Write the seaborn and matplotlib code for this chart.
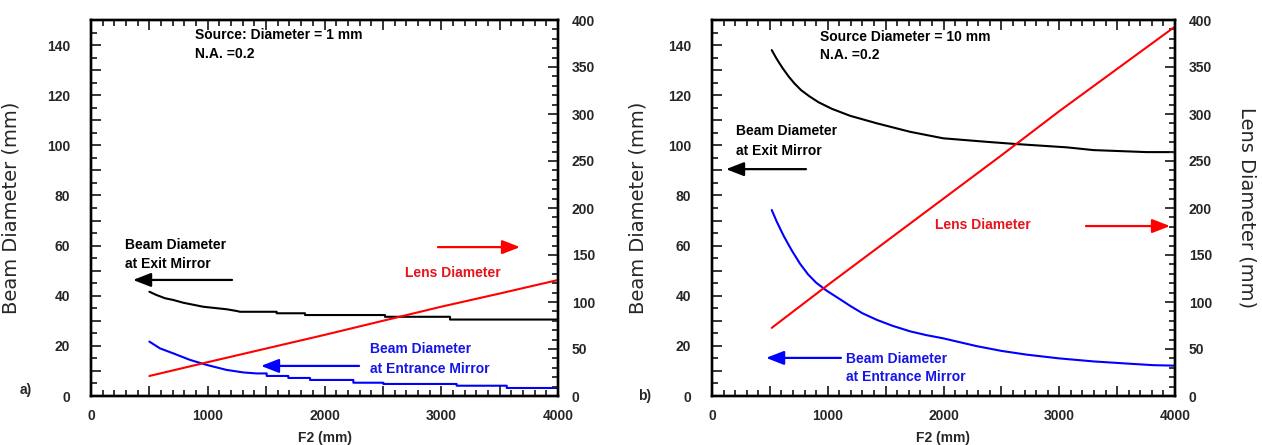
import numpy as np
import pandas as pd
import matplotlib
matplotlib.use("Agg")
import matplotlib.pyplot as plt
from matplotlib.ticker import MultipleLocator, FuncFormatter
import seaborn as sns

# ---------------- data ----------------
# Panel a) source diameter 1 mm, N.A. 0.2  (flat plateaus of the staircase are listed as pairs)
a_exit_f2 = [500, 560, 634, 705, 791, 962, 1162, 1250, 1276, 1590, 1590, 1833, 1833, 2518, 2518, 3075, 3075, 4000]
a_exit_d = [41.6, 40.3, 39.0, 38.3, 37.2, 35.6, 34.6, 33.9, 33.6, 33.6, 33.0, 33.0, 32.3, 32.3, 31.6, 31.6, 30.5, 30.5]
a_entr_f2 = [500, 591, 705, 848, 991, 1162, 1305, 1420, 1505, 1505, 1690, 1690, 1876, 1876, 2247, 2247, 2504, 2504, 3132, 3132, 3561, 3561, 4000]
a_entr_d = [21.7, 19.0, 17.0, 14.4, 12.4, 10.4, 9.4, 9.0, 9.0, 8.0, 8.0, 7.2, 7.2, 6.4, 6.4, 5.3, 5.3, 4.8, 4.8, 4.1, 4.1, 3.2, 3.2]
a_lens_f2 = [500, 1000, 1500, 2000, 2500, 3000, 3500, 4000]
a_lens_d = [21.3, 36.0, 50.5, 65.0, 80.0, 95.0, 109.0, 123.4]

# Panel b) source diameter 10 mm, N.A. 0.2
b_exit_f2 = [516, 560, 610, 660, 710, 770, 840, 920, 1034, 1192, 1423, 1711, 1998, 2373, 2632, 3064, 3295, 3755, 4000]
b_exit_d = [138.0, 134.4, 130.8, 127.6, 124.8, 122.0, 119.6, 117.2, 114.6, 111.8, 108.8, 105.4, 102.8, 101.4, 100.5, 99.2, 98.1, 97.3, 97.3]
b_entr_f2 = [516, 560, 620, 690, 760, 830, 900, 991, 1106, 1192, 1300, 1423, 1560, 1711, 1850, 1998, 2286, 2500, 2718, 3000, 3295, 3600, 3813, 4000]
b_entr_d = [74.2, 69.5, 63.8, 58.0, 52.8, 48.5, 45.2, 42.0, 38.6, 36.0, 33.0, 30.4, 28.0, 25.8, 24.3, 23.0, 19.9, 18.0, 16.5, 15.0, 13.8, 12.9, 12.3, 12.1]
b_lens_f2 = [516, 1000, 1500, 2000, 2500, 3000, 3500, 4000]
b_lens_d = [72.5, 118.0, 164.0, 210.0, 256.0, 303.0, 348.0, 393.0]

x_ticks = [0, 1000, 2000, 3000, 4000]
left_ylim = (0, 150)
right_ylim = (0, 400)

# ---------------- styling ----------------
sns.set_theme(style="ticks")
plt.rcParams["font.family"] = ["Liberation Sans", "DejaVu Sans"]

W, H = 1262, 445
fig = plt.figure(figsize=(W / 100, H / 100), dpi=100)

BLACK = "#000000"
RED = "#ff0000"
BLUE = "#0000ff"
RED_T = "#e8141c"
BLUE_T = "#1515e8"


def px_axes(x0, x1, y0, y1):
    return fig.add_axes([x0 / W, 1 - y1 / H, (x1 - x0) / W, (y1 - y0) / H])


def style_axes(ax, ax2):
    ax.set_xlim(0, 4000)
    ax.set_ylim(*left_ylim)
    ax2.set_ylim(*right_ylim)
    for a in (ax, ax2):
        for s in a.spines.values():
            s.set_linewidth(1.7)
            s.set_color("black")
    ax.xaxis.set_major_locator(MultipleLocator(500))
    ax.xaxis.set_minor_locator(MultipleLocator(100))
    ax.xaxis.set_major_formatter(FuncFormatter(lambda v, p: f"{int(v)}" if int(v) in x_ticks else ""))
    ax.yaxis.set_major_locator(MultipleLocator(10))
    ax.yaxis.set_minor_locator(MultipleLocator(5))
    ax.yaxis.set_major_formatter(FuncFormatter(lambda v, p: f"{int(v)}" if int(v) % 20 == 0 else ""))
    ax2.yaxis.set_major_locator(MultipleLocator(50))
    ax2.yaxis.set_minor_locator(MultipleLocator(10))
    ax.tick_params(axis="x", which="both", direction="in", top=True, bottom=True, width=1.3, pad=9,
                   labelsize=10)
    ax.tick_params(axis="x", which="major", length=7)
    ax.tick_params(axis="x", which="minor", length=4)
    ax.tick_params(axis="y", which="both", direction="in", left=True, right=False, width=1.3, pad=15,
                   labelsize=10)
    ax.tick_params(axis="y", which="major", length=7)
    ax.tick_params(axis="y", which="minor", length=4)
    ax2.tick_params(axis="y", which="both", direction="in", left=False, right=True, width=1.3, pad=10,
                    labelsize=10)
    ax2.tick_params(axis="y", which="major", length=7)
    ax2.tick_params(axis="y", which="minor", length=4)
    for lab in ax.get_xticklabels() + ax.get_yticklabels() + ax2.get_yticklabels():
        lab.set_fontweight("bold")
    ax.set_xlabel("F2 (mm)", fontsize=10, fontweight="bold", labelpad=6)
    ax.set_ylabel("Beam Diameter (mm)", fontsize=14, family="DejaVu Sans")


def arrow(ax, x0, x1, y, color):
    ax.annotate("", xy=(x1, y), xytext=(x0, y),
                arrowprops=dict(arrowstyle="-|>,head_length=0.9,head_width=0.35", lw=1.6,
                                color=color, shrinkA=0, shrinkB=0))


def draw_panel(ax, ax2, exit_f2, exit_d, entr_f2, entr_d, lens_f2, lens_d):
    sns.lineplot(x=exit_f2, y=exit_d, ax=ax, color=BLACK, lw=1.5, estimator=None, sort=False)
    sns.lineplot(x=entr_f2, y=entr_d, ax=ax, color=BLUE, lw=1.5, estimator=None, sort=False)
    sns.lineplot(x=lens_f2, y=lens_d, ax=ax2, color=RED, lw=1.5, estimator=None, sort=False)


# ---------------- panel a ----------------
axA = px_axes(91, 558, 20, 396)
axA2 = axA.twinx()
draw_panel(axA, axA2, a_exit_f2, a_exit_d, a_entr_f2, a_entr_d, a_lens_f2, a_lens_d)
style_axes(axA, axA2)
axA.yaxis.set_label_coords(-0.152, 0.5)

tk = dict(fontsize=10, fontweight="bold", va="center", ha="left")
axA.text(891, 144, "Source: Diameter = 1 mm", color=BLACK, **tk)
axA.text(891, 136.4, "N.A. =0.2", color=BLACK, **tk)
axA.text(291, 60.2, "Beam Diameter", color=BLACK, **tk)
axA.text(291, 52.6, "at Exit Mirror", color=BLACK, **tk)
arrow(axA, 1208, 360, 46.3, BLACK)
axA.text(2690, 49.1, "Lens Diameter", color=RED_T, **tk)
arrow(axA, 2972, 3675, 59.4, RED)
axA.text(2390, 18.7, "Beam Diameter", color=BLUE_T, **tk)
axA.text(2390, 10.8, "at Entrance Mirror", color=BLUE_T, **tk)
arrow(axA, 2296, 1456, 12.0, BLUE)
fig.text(20 / W, 1 - 390 / H, "a)", fontsize=10, fontweight="bold", va="center", ha="left")

# ---------------- panel b ----------------
axB = px_axes(712, 1175, 20, 396)
axB2 = axB.twinx()
draw_panel(axB, axB2, b_exit_f2, b_exit_d, b_entr_f2, b_entr_d, b_lens_f2, b_lens_d)
style_axes(axB, axB2)
axB.yaxis.set_label_coords(-0.140, 0.5)
axB2.set_ylabel("Lens Diameter (mm)", fontsize=14, family="DejaVu Sans", rotation=270, va="center")
axB2.yaxis.set_label_coords(1.1555, 0.5)

axB.text(929, 143.2, "Source Diameter = 10 mm", color=BLACK, **tk)
axB.text(929, 136.0, "N.A. =0.2", color=BLACK, **tk)
axB.text(204, 105.7, "Beam Diameter", color=BLACK, **tk)
axB.text(204, 97.7, "at Exit Mirror", color=BLACK, **tk)
arrow(axB, 812, 121, 90.5, BLACK)
axB.text(1927, 68.2, "Lens Diameter", color=RED_T, **tk)
arrow(axB, 3231, 3957, 67.8, RED)
axB.text(1158, 14.8, "Beam Diameter", color=BLUE_T, **tk)
axB.text(1158, 7.6, "at Entrance Mirror", color=BLUE_T, **tk)
arrow(axB, 1114, 467, 15.2, BLUE)
fig.text(638 / W, 1 - 396 / H, "b)", fontsize=10, fontweight="bold", va="center", ha="left")

fig.savefig("out.png", dpi=100)
